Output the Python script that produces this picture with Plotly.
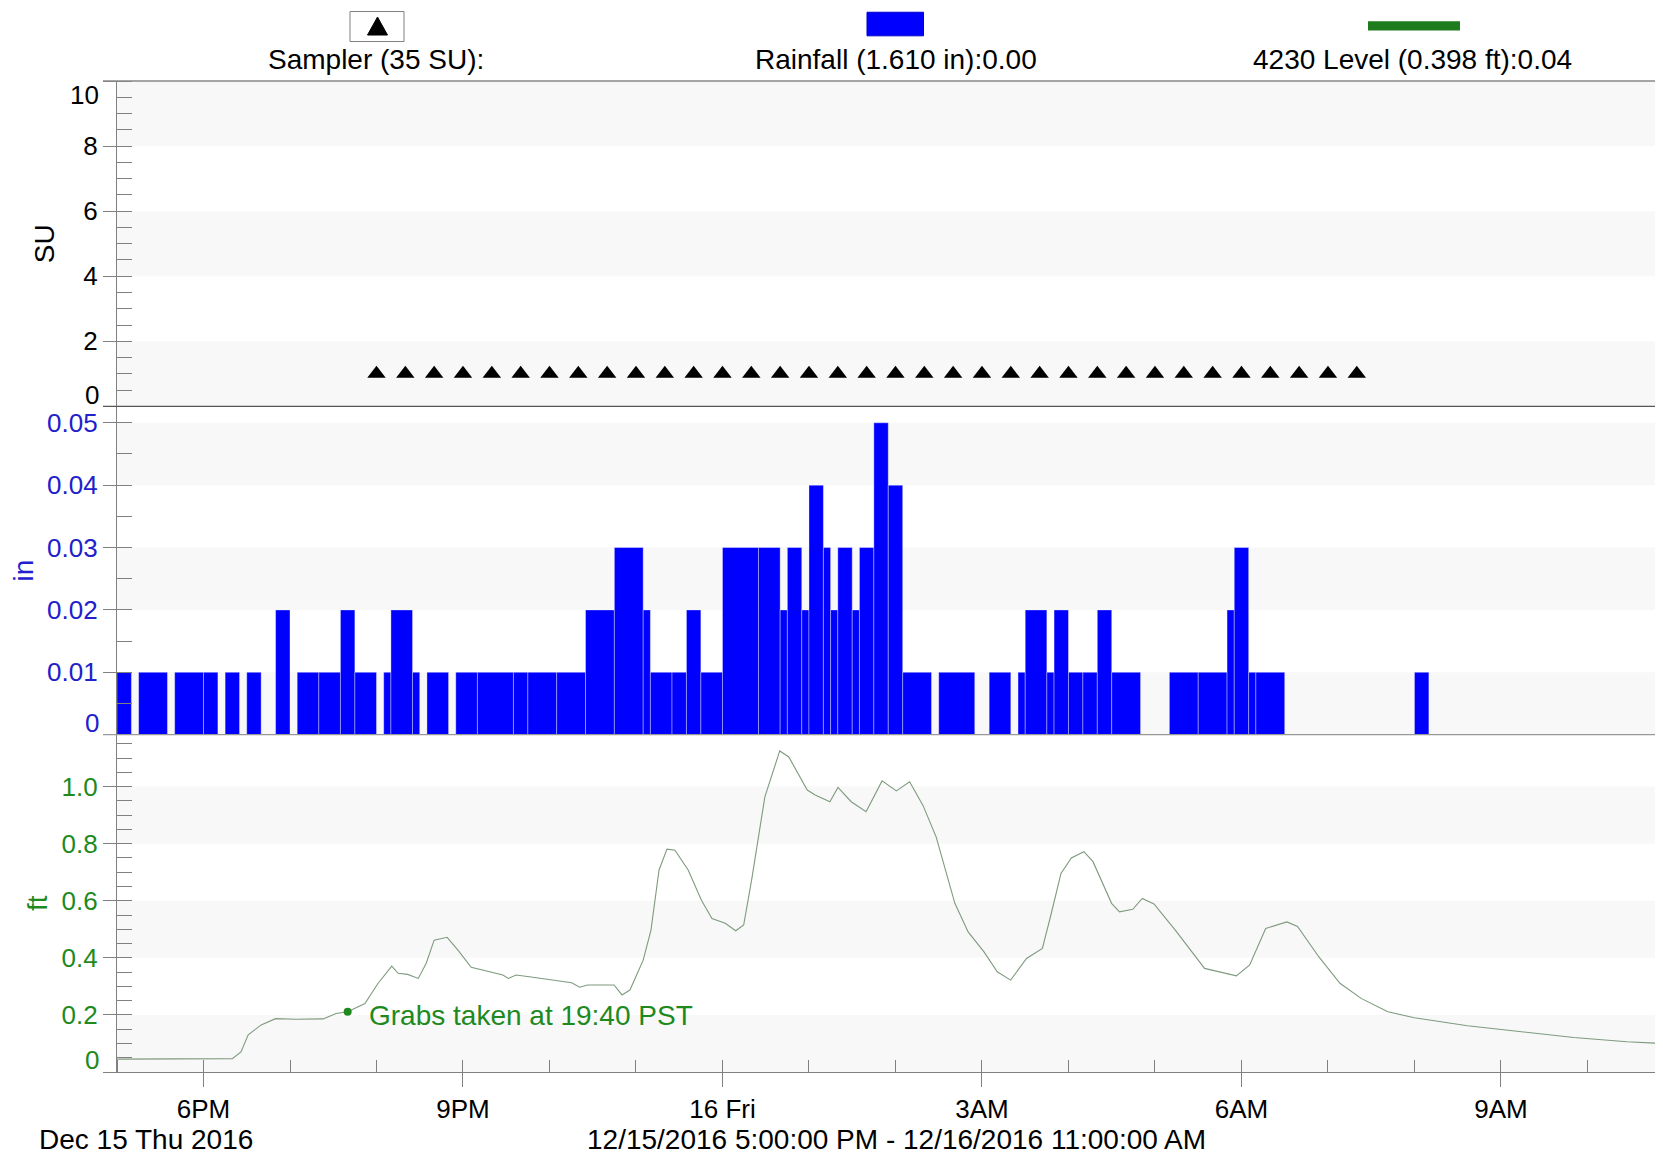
import plotly.graph_objects as go
import pandas as pd

# start of the window: 12/15/2016 5:00 PM
T0 = pd.Timestamp("2016-12-15 17:00")

# sampler events (minutes after 5 PM) and value in SU
sampler_min = [180, 200, 220, 240, 260, 280, 300, 320, 340, 360, 380, 400,
               420, 440, 460, 480, 500, 520, 540, 560, 580, 600, 620, 640,
               660, 680, 700, 720, 740, 760, 780, 800, 820, 840, 860]
sampler_su = [1, 1, 1, 1, 1, 1, 1, 1, 1, 1, 1, 1, 1, 1, 1, 1, 1, 1,
              1, 1, 1, 1, 1, 1, 1, 1, 1, 1, 1, 1, 1, 1, 1, 1, 1]

# rainfall records: start (min after 5 PM), duration (min), depth (in)
rain_start = [0, 15, 40, 60, 75, 90, 110, 125, 140, 155, 165, 185, 190, 205,
              215, 235, 250, 275, 285, 305, 325, 345, 365, 370, 385, 395, 405,
              420, 445, 460, 465, 475, 480, 490, 495, 500, 510, 515, 525, 535,
              545, 570, 605, 625, 630, 645, 650, 660, 670, 680, 690, 730, 750,
              770, 775, 785, 790, 900]
rain_dur = [10, 20, 20, 10, 10, 10, 10, 15, 15, 10, 15, 5, 15, 5,
            15, 15, 25, 10, 20, 20, 20, 20, 5, 15, 10, 10, 15,
            25, 15, 5, 10, 5, 10, 5, 5, 10, 5, 10, 10, 10,
            20, 25, 15, 5, 15, 5, 10, 10, 10, 10, 20, 20, 20,
            5, 10, 5, 20, 10]
rain_in = [0.01, 0.01, 0.01, 0.01, 0.01, 0.01, 0.02, 0.01, 0.01, 0.02, 0.01, 0.01, 0.02, 0.01,
           0.01, 0.01, 0.01, 0.01, 0.01, 0.01, 0.02, 0.03, 0.02, 0.01, 0.01, 0.02, 0.01,
           0.03, 0.03, 0.02, 0.03, 0.02, 0.04, 0.03, 0.02, 0.03, 0.02, 0.03, 0.05, 0.04,
           0.01, 0.01, 0.01, 0.01, 0.02, 0.01, 0.02, 0.01, 0.01, 0.02, 0.01, 0.01, 0.01,
           0.02, 0.03, 0.01, 0.01, 0.01]

# 4230 level (ft), minutes after 5 PM
level_min = [0, 30, 60, 80, 86, 91, 100, 110, 124, 143, 152, 160, 172, 181, 190.6,
             195, 201.6, 209, 214.5, 220, 229, 236.5, 245.7, 267.7, 271.4, 276.8,
             286, 304.4, 315.4, 320.9, 326.4, 344.8, 350.3, 355.8, 365, 370.4, 376,
             381.5, 387, 396.2, 405.4, 412.7, 421.9, 429.2, 434.7, 440.2, 449.4,
             459.7, 466, 478.8, 484.3, 494.5, 500.1, 509.3, 519.6, 530.7, 540.6,
             549.8, 559, 568.2, 581.2, 590.4, 601.4, 610.6, 619.9, 630.9, 641.9,
             647.5, 654.8, 662, 670.7, 677, 689.9, 695.4, 704.6, 711.2, 719.3,
             734.1, 754.4, 776.5, 785.7, 796.8, 811.5, 818.9, 833.6, 848.3, 863,
             881.5, 900, 936.8, 973.7, 1010.5, 1047.4, 1072.3]
level_ft = [0.045, 0.045, 0.046, 0.047, 0.07, 0.13, 0.165, 0.187, 0.185, 0.186, 0.205,
            0.211, 0.24, 0.31, 0.371, 0.346, 0.342, 0.328, 0.381, 0.462, 0.472, 0.427,
            0.367, 0.34, 0.328, 0.34, 0.334, 0.32, 0.313, 0.297, 0.305, 0.305, 0.27,
            0.287, 0.392, 0.497, 0.708, 0.781, 0.777, 0.708, 0.602, 0.538, 0.521,
            0.495, 0.515, 0.672, 0.964, 1.125, 1.104, 0.988, 0.971, 0.947, 0.997,
            0.947, 0.912, 1.02, 0.985, 1.017, 0.935, 0.824, 0.591, 0.491, 0.421,
            0.351, 0.322, 0.398, 0.433, 0.544, 0.696, 0.75, 0.772, 0.737, 0.591,
            0.561, 0.57, 0.608, 0.589, 0.497, 0.363, 0.337, 0.375, 0.503, 0.526,
            0.51, 0.404, 0.311, 0.258, 0.211, 0.19, 0.162, 0.141, 0.121, 0.106, 0.1]

# grab sample note
grab_min = [160]
grab_ft = [0.211]

x_tick_vals = ["2016-12-15 18:00", "2016-12-15 21:00", "2016-12-16 00:00",
               "2016-12-16 03:00", "2016-12-16 06:00", "2016-12-16 09:00"]
x_tick_text = ["6PM", "9PM", "16 Fri", "3AM", "6AM", "9AM"]


def at(mins):
    return [T0 + pd.Timedelta(minutes=m) for m in mins]


# page coordinates (the figure sits at an 8px body offset)
OFF = 8
W, H = 1663 - OFF, 1157 - OFF
L, TOP, BOT = 117, 80.5, 1072     # plot area edges in page pixels
PW, PH = 1663 - L, BOT - TOP


def px(x):  # page pixel -> paper x
    return (x - L) / PW


def py(y):  # page pixel -> paper y
    return (BOT - y) / PH


FONT = "Liberation Sans, Arial, sans-serif"
BLUE_TXT = "#2020cc"
GREEN_TXT = "#1e8a1e"
AXC = "#808080"

d_lvl = [0, py(734.5)]
d_rain = [py(734.5), py(406)]
d_su = [py(406), 1]

fig = go.Figure()

fig.add_trace(go.Scatter(x=at(sampler_min), y=sampler_su, mode="markers", yaxis="y3",
                         marker=dict(symbol="triangle-up", size=16, color="black"),
                         hoverinfo="x+y"))

fig.add_trace(go.Bar(x=at(rain_start), y=rain_in, width=[d * 60000 for d in rain_dur],
                     offset=0, yaxis="y2", marker_color="#0000ff",
                     marker_line=dict(color="rgba(255,255,255,0.6)", width=0.6)))

fig.add_trace(go.Scatter(x=at(level_min), y=level_ft, mode="lines", yaxis="y",
                         line=dict(color="#7f9a7f", width=1.1)))

fig.add_trace(go.Scatter(x=at(grab_min), y=grab_ft, mode="markers", yaxis="y",
                         marker=dict(color="#1e8a1e", size=8)))

# faint alternating background bands
shapes = []
for yref, lo, hi in [("y3", 0, 2), ("y3", 4, 6), ("y3", 8, 10),
                     ("y2", 0, 0.01), ("y2", 0.02, 0.03), ("y2", 0.04, 0.05),
                     ("y", 0, 0.2), ("y", 0.4, 0.6), ("y", 0.8, 1.0)]:
    shapes.append(dict(type="rect", xref="paper", yref=yref, x0=0, x1=1, y0=lo, y1=hi,
                       fillcolor="#f8f8f8", line_width=0, layer="below"))
# panel dividers
for yy, col in [(80.5, "#888888"), (406, "#555555"), (734.5, "#999999")]:
    shapes.append(dict(type="line", xref="paper", yref="paper", x0=px(103), x1=1,
                       y0=py(yy), y1=py(yy), line=dict(color=col, width=1.3)))
# legend swatches
shapes.append(dict(type="rect", xref="paper", yref="paper", x0=px(350), x1=px(404),
                   y0=py(41), y1=py(11), fillcolor="white", line=dict(color="#808080", width=1)))
shapes.append(dict(type="path", xref="paper", yref="paper",
                   path="M {:.5f},{:.5f} L {:.5f},{:.5f} L {:.5f},{:.5f} Z".format(
                       px(367.5), py(34.5), px(387.5), py(34.5), px(377.5), py(16.5)),
                   fillcolor="black", line=dict(color="black", width=1)))
shapes.append(dict(type="rect", xref="paper", yref="paper", x0=px(867), x1=px(923.5),
                   y0=py(35.3), y1=py(11.7), fillcolor="#0000ff", line=dict(color="#0000cc", width=1)))
shapes.append(dict(type="rect", xref="paper", yref="paper", x0=px(1368), x1=px(1460),
                   y0=py(30), y1=py(20.7), fillcolor="#1e7b1e", line_width=0))

ann = []
tf = dict(family=FONT, size=28, color="black")
for cx, label in [(376, "Sampler (35 SU):"), (896, "Rainfall (1.610 in):0.00"),
                  (1412, "4230 Level (0.398 ft):0.04")]:
    ann.append(dict(xref="paper", yref="paper", x=px(cx), y=py(59), text=label,
                    showarrow=False, font=tf, xanchor="center", yanchor="middle"))
ann.append(dict(xref="paper", yref="paper", x=px(37), y=py(1140), text="Dec 15 Thu 2016",
                showarrow=False, font=tf, xanchor="left", yanchor="middle"))
ann.append(dict(xref="paper", yref="paper", x=px(896), y=py(1140),
                text="12/15/2016 5:00:00 PM - 12/16/2016 11:00:00 AM",
                showarrow=False, font=tf, xanchor="center", yanchor="middle"))
ann.append(dict(x=at(grab_min)[0], y=grab_ft[0], xref="x", yref="y",
                text="Grabs taken at 19:40 PST", showarrow=False, xanchor="left",
                yanchor="middle", xshift=19, yshift=-4,
                font=dict(family=FONT, size=28, color=GREEN_TXT)))
# end labels nudged inside their panels
for yref, yv, txt, col in [("y3", 9.58, "10", "black"), ("y3", 0.34, "0", "black"),
                           ("y2", 0.0018, "0", BLUE_TXT), ("y", 0.042, "0", GREEN_TXT)]:
    ann.append(dict(xref="paper", yref=yref, x=0, y=yv, text=txt, showarrow=False,
                    xanchor="right", yanchor="middle", xshift=-16,
                    font=dict(family=FONT, size=26, color=col)))

yax = dict(showgrid=False, zeroline=False, showline=True, linecolor=AXC, linewidth=1.3,
           ticks="outside", ticklen=13, tickcolor=AXC, anchor="x", fixedrange=True)

fig.update_layout(
    width=W, height=H,
    margin=dict(l=L - OFF, r=0, t=TOP - OFF, b=H - (BOT - OFF)),
    paper_bgcolor="white", plot_bgcolor="white", showlegend=False,
    font=dict(family=FONT, size=26, color="black"),
    shapes=shapes, annotations=ann,
    xaxis=dict(type="date", range=[T0, T0 + pd.Timedelta(minutes=1072.4)], anchor="y",
               tickmode="array", tickvals=x_tick_vals, ticktext=x_tick_text,
               ticks="outside", ticklen=14, tickcolor=AXC, showline=True, linecolor=AXC,
               linewidth=1.3, showgrid=False, zeroline=False,
               tickfont=dict(size=26, color="black"),
               minor=dict(dtick=3600000, ticks="inside", ticklen=12, tickcolor=AXC,
                          showgrid=False)),
    yaxis=dict(yax, domain=d_lvl, range=[0, 1.182],
               tickmode="array", tickvals=[0, 0.2, 0.4, 0.6, 0.8, 1.0],
               ticktext=["", "0.2", "0.4", "0.6", "0.8", "1.0"],
               tickfont=dict(size=26, color=GREEN_TXT),
               minor=dict(dtick=0.05, ticks="inside", ticklen=15, tickcolor=AXC),
               title=dict(text="ft", font=dict(size=28, color=GREEN_TXT), standoff=5)),
    yaxis2=dict(yax, domain=d_rain, range=[0, 0.05264],
                tickmode="array", tickvals=[0, 0.01, 0.02, 0.03, 0.04, 0.05],
                ticktext=["", "0.01", "0.02", "0.03", "0.04", "0.05"],
                tickfont=dict(size=26, color=BLUE_TXT),
                minor=dict(dtick=0.005, ticks="inside", ticklen=15, tickcolor=AXC),
                title=dict(text="in", font=dict(size=28, color=BLUE_TXT), standoff=20)),
    yaxis3=dict(yax, domain=d_su, range=[0, 10],
                tickmode="array", tickvals=[0, 2, 4, 6, 8, 10],
                ticktext=["", "2", "4", "6", "8", ""],
                tickfont=dict(size=26, color="black"),
                minor=dict(dtick=0.5, ticks="inside", ticklen=15, tickcolor=AXC),
                title=dict(text="SU", font=dict(size=28, color="black"), standoff=20)),
)

fig.write_html("out.html")
